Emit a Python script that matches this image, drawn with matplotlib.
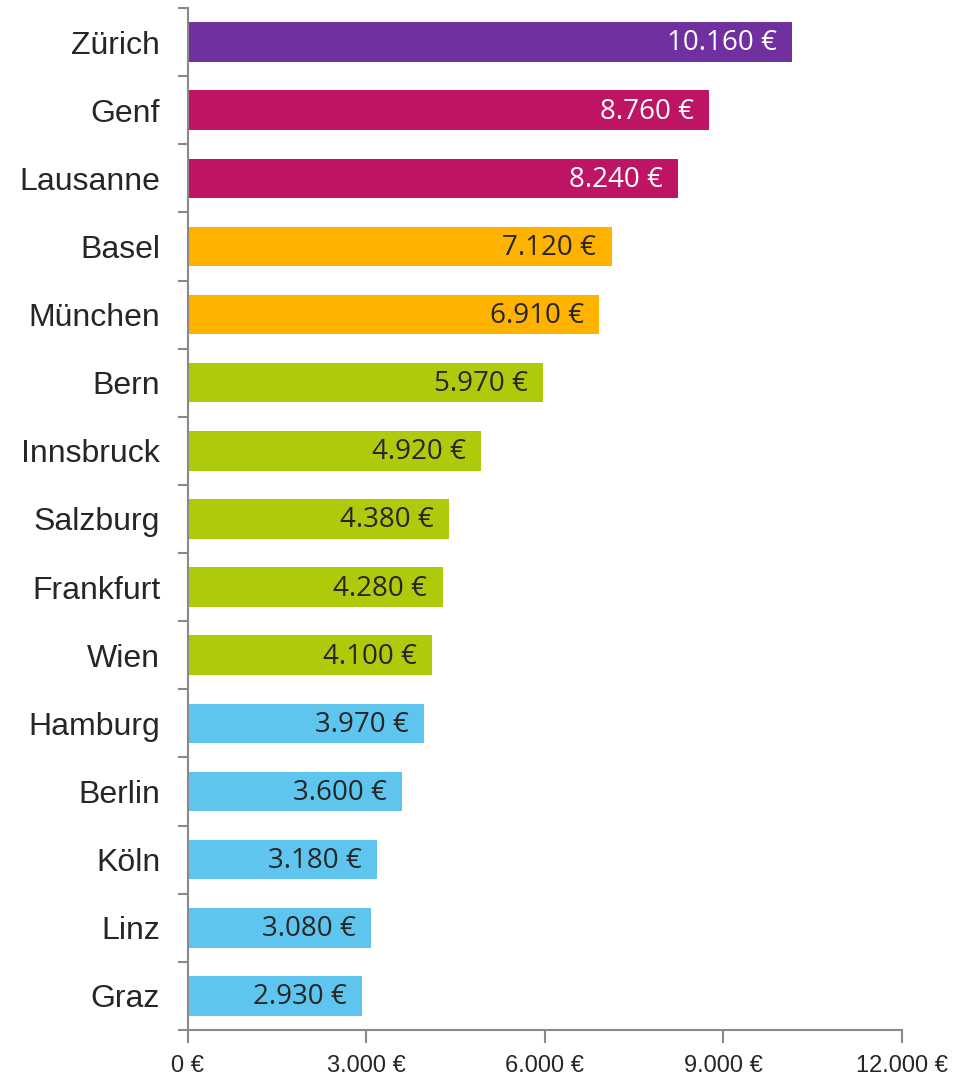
import matplotlib.pyplot as plt
from matplotlib.ticker import FixedLocator

cities = ["Zürich", "Genf", "Lausanne", "Basel", "München", "Bern", "Innsbruck",
          "Salzburg", "Frankfurt", "Wien", "Hamburg", "Berlin", "Köln", "Linz", "Graz"]
values = [10160, 8760, 8240, 7120, 6910, 5970, 4920, 4380, 4280, 4100,
          3970, 3600, 3180, 3080, 2930]
groups = ["top", "high", "high", "mid", "mid", "low", "low", "low", "low", "low",
          "base", "base", "base", "base", "base"]
x_ticks = [0, 3000, 6000, 9000, 12000]

colors = {"top": "#7030A0", "high": "#BE1464", "mid": "#FFB300",
          "low": "#AFCA0B", "base": "#5EC5EE"}
text_colors = {"top": "white", "high": "white", "mid": "#262626",
               "low": "#262626", "base": "#262626"}

def fmt(v):
    return f"{v:,}".replace(",", ".") + " €"

fig = plt.figure(figsize=(9.75, 10.81), dpi=100)
ax = fig.add_axes([0.1928, 0.0472, 0.7323, 0.9454])

pos = list(range(len(cities)))
ax.barh(pos, values, height=0.58, color=[colors[g] for g in groups])

for p, v, g in zip(pos, values, groups):
    ax.annotate(fmt(v), (v, p), xytext=(-11, -1), textcoords="offset points",
                ha="right", va="center", fontsize=20,
                family=["Open Sans", "DejaVu Sans"], color=text_colors[g])

ax.set_ylim(len(cities) - 0.5, -0.5)
ax.set_xlim(0, 12000)
ax.set_yticks(pos)
ax.set_yticklabels(cities, fontsize=23, family=["Liberation Sans", "DejaVu Sans"],
                   color="#262626")
ax.yaxis.set_minor_locator(FixedLocator([i - 0.5 for i in range(len(cities) + 1)]))
ax.tick_params(axis="y", which="major", length=0, pad=20)
ax.tick_params(axis="y", which="minor", length=7, color="#898989", width=1.5)

ax.set_xticks(x_ticks)
ax.set_xticklabels([fmt(t) for t in x_ticks], fontsize=17,
                   family=["Liberation Sans Narrow", "Liberation Sans"], color="#262626")
ax.tick_params(axis="x", length=9, color="#898989", width=1.5, pad=9)

for s in ["top", "right"]:
    ax.spines[s].set_visible(False)
for s in ["left", "bottom"]:
    ax.spines[s].set_color("#898989")
    ax.spines[s].set_linewidth(1.5)

fig.savefig("out.png", dpi=100)
